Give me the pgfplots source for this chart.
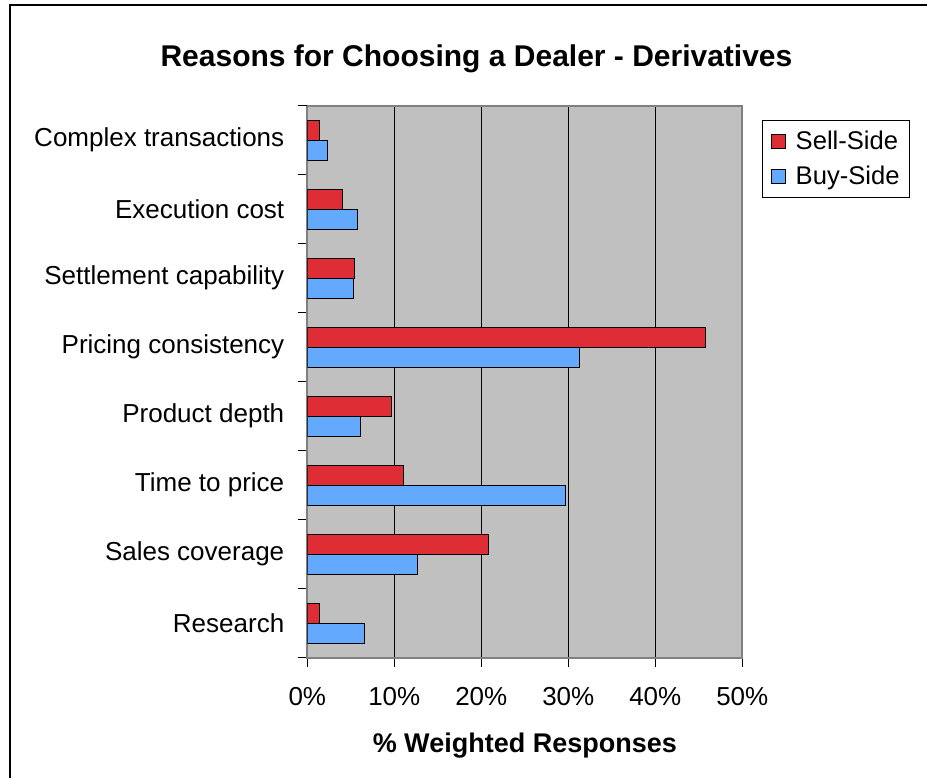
\documentclass[border=0pt]{standalone}
\usepackage{pgfplots}
\pgfplotsset{compat=1.18}
\usepackage{fontspec}
\setmainfont{Liberation Sans}
\definecolor{sellred}{RGB}{222,45,53}
\definecolor{buyblue}{RGB}{99,170,255}
\definecolor{bggray}{RGB}{192,192,192}
\definecolor{axgray}{RGB}{128,128,128}
\begin{document}
\begin{tikzpicture}
\begin{axis}[
  at={(0,0)}, anchor=south west,
  width=217.5pt, height=276pt, scale only axis,
  xbar, bar width=10pt,
  xmin=0, xmax=50, ymin=-0.5, ymax=7.5,
  axis background/.style={fill=bggray},
  axis line style={draw=axgray, line width=1pt},
  /pgf/number format/assume math mode=true,
  xtick={0,10,...,50},
  xticklabel={\pgfmathprintnumber{\tick}\%},
  xmajorgrids, major grid style={black, line width=0.6pt},
  ytick={-0.5,0.5,...,6.5},
  extra y ticks={7.5}, extra y tick labels={},
  yticklabels={Research,Sales coverage,Time to price,Product depth,Pricing consistency,Settlement capability,Execution cost,Complex transactions},
  yticklabel style={yshift=17.25pt, xshift=-3.5pt},
  tick align=outside, major tick length=4.5pt,
  tick style={black, line width=0.7pt},
  xtick pos=bottom, ytick pos=left,
  ticklabel style={font=\fontsize{13}{15}\selectfont},
  xticklabel style={yshift=-7pt},
  legend style={at={(1.046,0.974)}, anchor=north west, draw=black, fill=white,
    font=\fontsize{12.8}{15}\selectfont, row sep=3pt, inner sep=3pt,
    inner xsep=3pt},
  legend cell align=left,
  legend image code/.code={\path[draw=none,fill=none] (0pt,0pt) -- (11.5pt,0pt);\draw[#1,draw=black,line width=0.5pt] (1.2pt,-3.5pt) rectangle (8.2pt,3.5pt);},
]
\addplot[fill=sellred, draw=black, line width=0.5pt, bar shift=5pt] coordinates {
  (1.4,0) (20.8,1) (11.1,2) (9.7,3) (45.8,4) (5.4,5) (4.1,6) (1.4,7)};
\addlegendentry{Sell-Side}
\addplot[fill=buyblue, draw=black, line width=0.5pt, bar shift=-5pt] coordinates {
  (6.6,0) (12.7,1) (29.7,2) (6.1,3) (31.3,4) (5.3,5) (5.8,6) (2.3,7)};
\addlegendentry{Buy-Side}
\end{axis}
\node[font=\fontsize{15}{18}\selectfont\bfseries] at (84.6pt,299.35pt) {Reasons for Choosing a Dealer - Derivatives};
\node[font=\fontsize{13.5}{16}\selectfont\bfseries] at (108.75pt,-44.15pt) {\% Weighted Responses};
\draw[black, line width=0.7pt] (-148.65pt,-60.15pt) -- (-148.65pt,326.35pt) -- (309.85pt,326.35pt);
\pgfresetboundingbox
\path (-153.65pt,-60.15pt) rectangle (309.85pt,328.85pt);
\end{tikzpicture}
\end{document}
